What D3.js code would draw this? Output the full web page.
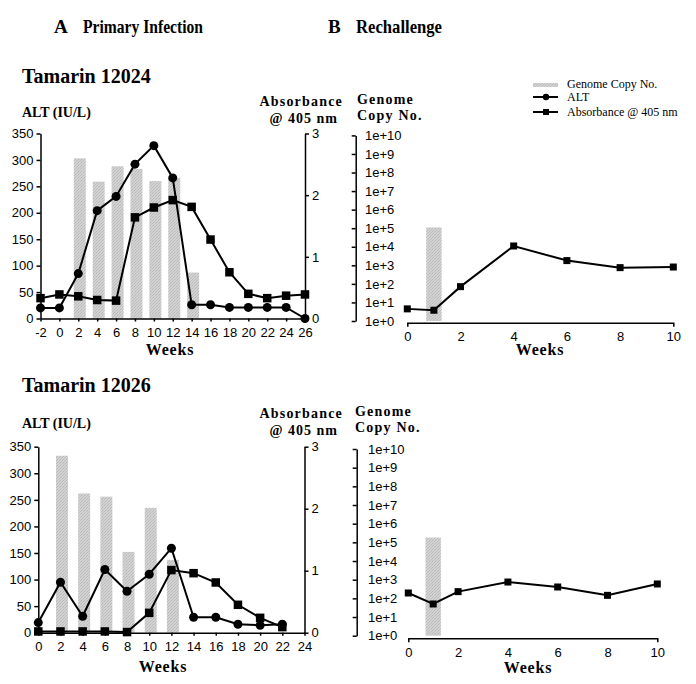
<!DOCTYPE html>
<html><head><meta charset="utf-8">
<script src="https://cdn.jsdelivr.net/npm/d3@7"></script>
<style>
html,body{margin:0;padding:0;background:#fff;}
svg{display:block;font-family:"Liberation Serif","Times New Roman",serif;}
.ax path,.ax line{stroke:#000;stroke-width:1.5;}
.ax text{font-size:13px;fill:#000;}
</style></head><body>
<svg id="c" width="696" height="684"></svg>
<script>
// ---------- data ----------
// Panel A, Tamarin 12024
const weeksA1 = [-2,0,2,4,6,8,10,12,14,16,18,20,22,24,26];
const altA1 = [20,20,85,204,231,292,327,266,26,26,21,21,21,21,0];
const absA1 = [0.33,0.39,0.36,0.30,0.29,1.64,1.80,1.92,1.81,1.28,0.75,0.40,0.33,0.37,0.39];
const genomeWeeksA1 = [2,4,6,8,10,12,14];
const genomeA1 = [303,259,288,283,260,266,87]; // relative bar heights (ALT-axis units)
// Panel A, Tamarin 12026
const weeksA2 = [0,2,4,6,8,10,12,14,16,18,20,22];
const altA2 = [19,95,31,119,78,110,159,29,29,16,14,16];
const absA2 = [0.02,0.02,0.02,0.02,0.01,0.32,1.01,0.96,0.81,0.45,0.24,0.09];
const genomeWeeksA2 = [2,4,6,8,10,12];
const genomeA2 = [333,262,256,152,235,137];
// Panel B, Rechallenge
const weeksB = [0,1,2,4,6,8,10];
const absB1 = [4.5,3.8,71,11000,1800,750,810];
const absB2 = [194,50,229,750,406,145,590];
const genomeWeekB = [1];
const genomeB1 = [110000];
const genomeB2 = [180000];
// tick labels
const altTicks = [0,50,100,150,200,250,300,350];
const absTicks = [0,1,2,3];
const ticksA1 = [-2,0,2,4,6,8,10,12,14,16,18,20,22,24,26];
const ticksA2 = [0,2,4,6,8,10,12,14,16,18,20,22,24];
const ticksB = [0,2,4,6,8,10];
const logTicks = [0,1,2,3,4,5,6,7,8,9,10].map(e=>Math.pow(10,e));

const svg = d3.select("#c");
svg.append("rect").attr("width",696).attr("height",684).attr("fill","#fff");
const defs = svg.append("defs");
const pat = defs.append("pattern").attr("id","tex").attr("width",3).attr("height",3).attr("patternUnits","userSpaceOnUse");
pat.append("rect").attr("width",3).attr("height",3).attr("fill","#d2d2d2");
pat.append("rect").attr("x",0).attr("y",0).attr("width",1).attr("height",1).attr("fill","#b8b8b8");
pat.append("rect").attr("x",2).attr("y",1).attr("width",1).attr("height",1).attr("fill","#bdbdbd");
pat.append("rect").attr("x",1).attr("y",2).attr("width",1).attr("height",1).attr("fill","#c0c0c0");
const BAR = "url(#tex)";
const fmt = d => String(d);

function txt(x,y,s,opts){
  const t = svg.append("text").attr("x",x).attr("y",y).text(s)
    .attr("font-size",opts.size||13).attr("font-weight",opts.bold?"bold":"normal")
    .attr("text-anchor",opts.anchor||"start").attr("fill","#000");
  if(opts.ls) t.attr("letter-spacing",opts.ls);
  if(opts.len) t.attr("textLength",opts.len).attr("lengthAdjust","spacingAndGlyphs");
  return t;
}

function square(g,x,y,s){ g.append("rect").attr("x",x-s/2).attr("y",y-s/2).attr("width",s).attr("height",s).attr("fill","#000"); }

function panelA(cfg){
  const x = d3.scaleLinear().domain(cfg.xdom).range(cfg.xr);
  const yL = d3.scaleLinear().domain([0,350]).range(cfg.yr);
  const yR = d3.scaleLinear().domain([0,3]).range(cfg.yr);
  const g = svg.append("g");
  // bars
  g.selectAll(null).data(cfg.gw).enter().append("rect")
    .attr("x",(d)=>x(d)-6+1.5).attr("width",12)
    .attr("y",(d,i)=>yL(cfg.gv[i])).attr("height",(d,i)=>yL(0)-yL(cfg.gv[i]))
    .attr("fill",BAR);
  // axes
  g.append("g").attr("class","ax").attr("transform",`translate(${cfg.xr[0]},0)`)
    .call(d3.axisLeft(yL).tickValues(altTicks).tickFormat(fmt).tickSize(4).tickSizeOuter(0).tickPadding(3));
  g.append("g").attr("class","ax").attr("transform",`translate(${cfg.xr[1]},0)`)
    .call(d3.axisRight(yR).tickValues(absTicks).tickFormat(fmt).tickSize(4).tickSizeOuter(0).tickPadding(3));
  g.append("g").attr("class","ax").attr("transform",`translate(0,${cfg.yr[0]})`)
    .call(d3.axisBottom(x).tickValues(cfg.ticks).tickFormat(fmt).tickSize(3).tickSizeOuter(0).tickPadding(6));
  // lines
  const la = d3.line().x((d,i)=>x(cfg.w[i])).y(d=>yL(d));
  g.append("path").attr("d",la(cfg.alt)).attr("fill","none").attr("stroke","#000").attr("stroke-width",2);
  const lb = d3.line().x((d,i)=>x(cfg.w[i])).y(d=>yR(d));
  g.append("path").attr("d",lb(cfg.abs)).attr("fill","none").attr("stroke","#000").attr("stroke-width",2);
  cfg.alt.forEach((d,i)=>g.append("circle").attr("cx",x(cfg.w[i])).attr("cy",yL(d)).attr("r",4.5).attr("fill","#000"));
  cfg.abs.forEach((d,i)=>square(g,x(cfg.w[i]),yR(d),8.5));
}

function panelB(cfg){
  const x = d3.scaleLinear().domain([0,10]).range(cfg.xr);
  const y = d3.scaleLog().domain([1,1e10]).range(cfg.yr);
  const g = svg.append("g");
  g.selectAll(null).data(genomeWeekB).enter().append("rect")
    .attr("x",d=>x(d)-7.7).attr("width",15.4)
    .attr("y",(d,i)=>y(cfg.gv[i])).attr("height",(d,i)=>y(1)-y(cfg.gv[i]))
    .attr("fill",BAR);
  const ya = g.append("g").attr("class","ax").attr("transform",`translate(${cfg.yx},0)`)
    .call(d3.axisLeft(y).tickValues(logTicks).tickSize(4).tickSizeOuter(0)
      .tickFormat(d=>"1e+"+Math.round(Math.log10(d))));
  ya.selectAll("text").attr("text-anchor","start").attr("x",cfg.lx-cfg.yx).attr("font-size",12.5);
  g.append("g").attr("class","ax").attr("transform",`translate(0,${cfg.xy})`)
    .call(d3.axisBottom(x).tickValues(ticksB).tickFormat(fmt).tickSizeInner(0).tickSizeOuter(4).tickPadding(9));
  const l = d3.line().x((d,i)=>x(weeksB[i])).y(d=>y(d));
  g.append("path").attr("d",l(cfg.v)).attr("fill","none").attr("stroke","#000").attr("stroke-width",2);
  cfg.v.forEach((d,i)=>square(g,x(weeksB[i]),y(d),7));
}

// headings
txt(54,33,"A",{size:19,bold:true});
txt(83,33,"Primary Infection",{size:19,bold:true,len:120});
txt(328,33,"B",{size:19,bold:true});
txt(356,33,"Rechallenge",{size:19,bold:true,len:86});

// Panel A1
txt(22,83,"Tamarin 12024",{size:20,bold:true});
txt(22,117,"ALT (IU/L)",{size:14,bold:true});
txt(343,106,"Absorbance",{size:14,bold:true,anchor:"end",ls:1.2});
txt(338,123,"@ 405 nm",{size:14,bold:true,anchor:"end",ls:1});
panelA({xdom:[-2,26],xr:[40.5,305],yr:[318.5,133.5],w:weeksA1,alt:altA1,abs:absA1,gw:genomeWeeksA1,gv:genomeA1,ticks:ticksA1});
txt(170,355,"Weeks",{size:16,bold:true,anchor:"middle",ls:0.8});

// Panel A2
txt(22,392,"Tamarin 12026",{size:20,bold:true});
txt(22,428,"ALT (IU/L)",{size:14,bold:true});
txt(343,418,"Absorbance",{size:14,bold:true,anchor:"end",ls:1.2});
txt(338,435,"@ 405 nm",{size:14,bold:true,anchor:"end",ls:1});
panelA({xdom:[0,24],xr:[38.3,304.5],yr:[632.7,446.7],w:weeksA2,alt:altA2,abs:absA2,gw:genomeWeeksA2,gv:genomeA2,ticks:ticksA2});
txt(163,672,"Weeks",{size:16,bold:true,anchor:"middle",ls:0.8});

// Panel B1
txt(357,104,"Genome",{size:14,bold:true,ls:1.2});
txt(357,120,"Copy No.",{size:14,bold:true,ls:1.2});
panelB({xr:[407.3,673.3],yr:[321,135.4],yx:355.7,lx:365,xy:322.7,gv:genomeB1,v:absB1});
txt(540,355,"Weeks",{size:16,bold:true,anchor:"middle",ls:0.8});

// Panel B2
txt(355,416,"Genome",{size:14,bold:true,ls:1.2});
txt(355,432,"Copy No.",{size:14,bold:true,ls:1.2});
panelB({xr:[408.3,657.3],yr:[635.7,449],yx:356.7,lx:368,xy:638.3,gv:genomeB2,v:absB2});
txt(528,673,"Weeks",{size:16,bold:true,anchor:"middle",ls:0.8});

// Legend
const lg = svg.append("g");
lg.append("rect").attr("x",533).attr("y",83).attr("width",25).attr("height",4).attr("fill",BAR);
txt(567,88,"Genome Copy No.",{size:12});
lg.append("line").attr("x1",533).attr("x2",558).attr("y1",97).attr("y2",97).attr("stroke","#000").attr("stroke-width",2);
lg.append("circle").attr("cx",546).attr("cy",97).attr("r",3.2).attr("fill","#000");
txt(567,101,"ALT",{size:12});
lg.append("line").attr("x1",533).attr("x2",558).attr("y1",112).attr("y2",112).attr("stroke","#000").attr("stroke-width",2);
lg.append("rect").attr("x",543).attr("y",109).attr("width",6).attr("height",6).attr("fill","#000");
txt(567,116,"Absorbance @ 405 nm",{size:12});
</script></body></html>
